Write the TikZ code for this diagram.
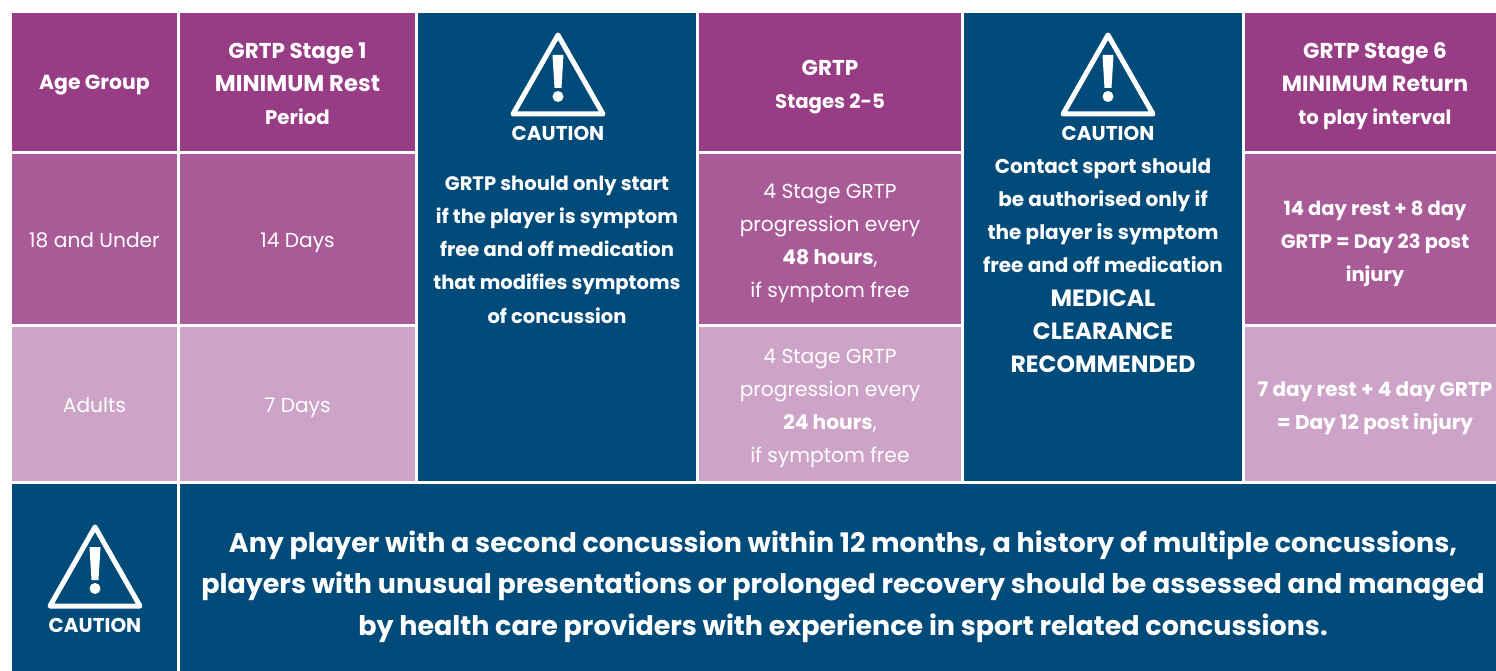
\documentclass[tikz,border=0pt]{standalone}
\usepackage{fontspec}
\setmainfont{Poppins}
\definecolor{navy}{HTML}{014B7A}
\definecolor{plumA}{HTML}{973C85}
\definecolor{plumB}{HTML}{A95B97}
\definecolor{plumC}{HTML}{CDA3C7}
\newcommand{\bfs}{\fontsize{20}{33.2}\bfseries\selectfont}
\newcommand{\bfm}{\fontsize{19.5}{33.2}\bfseries\selectfont}
\newcommand{\hfs}{\fontsize{21.5}{33}\bfseries\selectfont}
\newcommand{\lfs}{\fontsize{19.7}{33}\bfseries\selectfont}
\newcommand{\ufs}{\fontsize{23.5}{33.2}\bfseries\selectfont}
\newcommand{\rfs}{\fontsize{20.2}{33.2}\selectfont}
\newcommand{\bigf}{\fontsize{26.95}{41.5}\bfseries\selectfont}
\newcommand{\capf}{\fontsize{20}{20}\bfseries\selectfont}
\tikzset{x=1pt,y=-1pt,
 cell/.style={rectangle,inner sep=0pt,outer sep=0pt,text=white,align=center},
 tri/.style={draw=white,line width=5pt,line join=round},
}
% #1 name, #2 x0, #3 y0, #4 x1, #5 y1, #6 colour
\newcommand{\cellbox}[6]{\fill[#6] (#2,#3) rectangle (#4,#5);
 \coordinate (#1) at ({(#2+#4)/2},{(#3+#5)/2});}
\newcommand{\warn}[3]{% cx, top y, name
 \draw[tri] (#1,#2) -- (#1+45,#2+79) -- (#1-45,#2+79) -- cycle;
 \fill[white] (#1-5.5,#2+20) -- (#1+5.5,#2+20) -- (#1+3.5,#2+53) -- (#1-3.5,#2+53) -- cycle;
 \fill[white] (#1,#2+61.5) circle (5.5);
 \node[cell,font=\capf] (#3) at (#1,#2+98) {CAUTION};}
\begin{document}
\begin{tikzpicture}
\useasboundingbox (0,0) rectangle (1496,671);
\fill[white] (0,0) rectangle (1496,671);
\cellbox{c11}{12}{13}{177}{151}{plumA}
\cellbox{c12}{180}{13}{415}{151}{plumA}
\cellbox{c14}{699}{13}{961}{151}{plumA}
\cellbox{c16}{1245}{13}{1496}{151}{plumA}
\cellbox{c21}{12}{154}{177}{324}{plumB}
\cellbox{c22}{180}{154}{415}{324}{plumB}
\cellbox{c24}{699}{154}{961}{324}{plumB}
\cellbox{c26}{1245}{154}{1496}{324}{plumB}
\cellbox{c31}{12}{327}{177}{481}{plumC}
\cellbox{c32}{180}{327}{415}{481}{plumC}
\cellbox{c34}{699}{327}{961}{481}{plumC}
\cellbox{c36}{1245}{327}{1496}{481}{plumC}
\cellbox{c13}{418}{13}{696}{481}{navy}
\cellbox{c15}{964}{13}{1242}{481}{navy}
\cellbox{b1}{12}{484}{177}{671}{navy}
\cellbox{b2}{180}{484}{1496}{671}{navy}
\node[cell,font=\hfs] at (94.5,85.5) {\fontsize{20.4}{33}\selectfont Age Group};
\node[cell,font=\hfs] at (297.5,84) {GRTP Stage 1\\{\fontsize{22.8}{33}\selectfont MINIMUM Rest}\\{\lfs Period}};
\node[cell,font=\hfs] at (830,87.5) {GRTP\\{\lfs Stages 2-5}};
\node[cell,font=\hfs] at (1375,86.5) {GRTP Stage 6\\{\fontsize{22}{33}\selectfont MINIMUM Return}\\{\lfs to play interval}};
\node[cell,font=\rfs] at (94.5,240.5) {18 and Under};
\node[cell,font=\rfs] at (297.5,243) {14 Days};
\node[cell,font=\rfs] at (830,243.5) {4 Stage GRTP\\progression every\\{\bfseries 48 hours},\\if symptom free};
\node[cell,font=\bfm] at (1375,244) {14 day rest + 8 day\\GRTP = Day 23 post\\injury};
\node[cell,font=\rfs] at (94.5,405) {Adults};
\node[cell,font=\rfs] at (297.5,408) {7 Days};
\node[cell,font=\rfs] at (830,408.5) {4 Stage GRTP\\progression every\\{\bfseries 24 hours},\\if symptom free};
\node[cell,font=\bfs] at (1375,408.5) {7 day rest + 4 day GRTP\\= Day 12 post injury};
\warn{558}{35}{w1}
\node[cell,font=\bfm] at (557,249.5) {GRTP should only start\\if the player is symptom\\free and off medication\\that modifies symptoms\\of concussion};
\warn{1108}{35}{w2}
\node[cell,font=\bfs] at (1103,265.5) {Contact sport should\\be authorised only if\\the player is symptom\\free and off medication\\{\ufs MEDICAL}\\{\ufs CLEARANCE}\\{\ufs RECOMMENDED}};
\warn{95}{527}{w3}
\node[cell,font=\bigf] at (843,586.5) {Any player with a second concussion within 12 months, a history of multiple concussions,\\players with unusual presentations or prolonged recovery should be assessed and managed\\by health care providers with experience in sport related concussions.};
\end{tikzpicture}
\end{document}
